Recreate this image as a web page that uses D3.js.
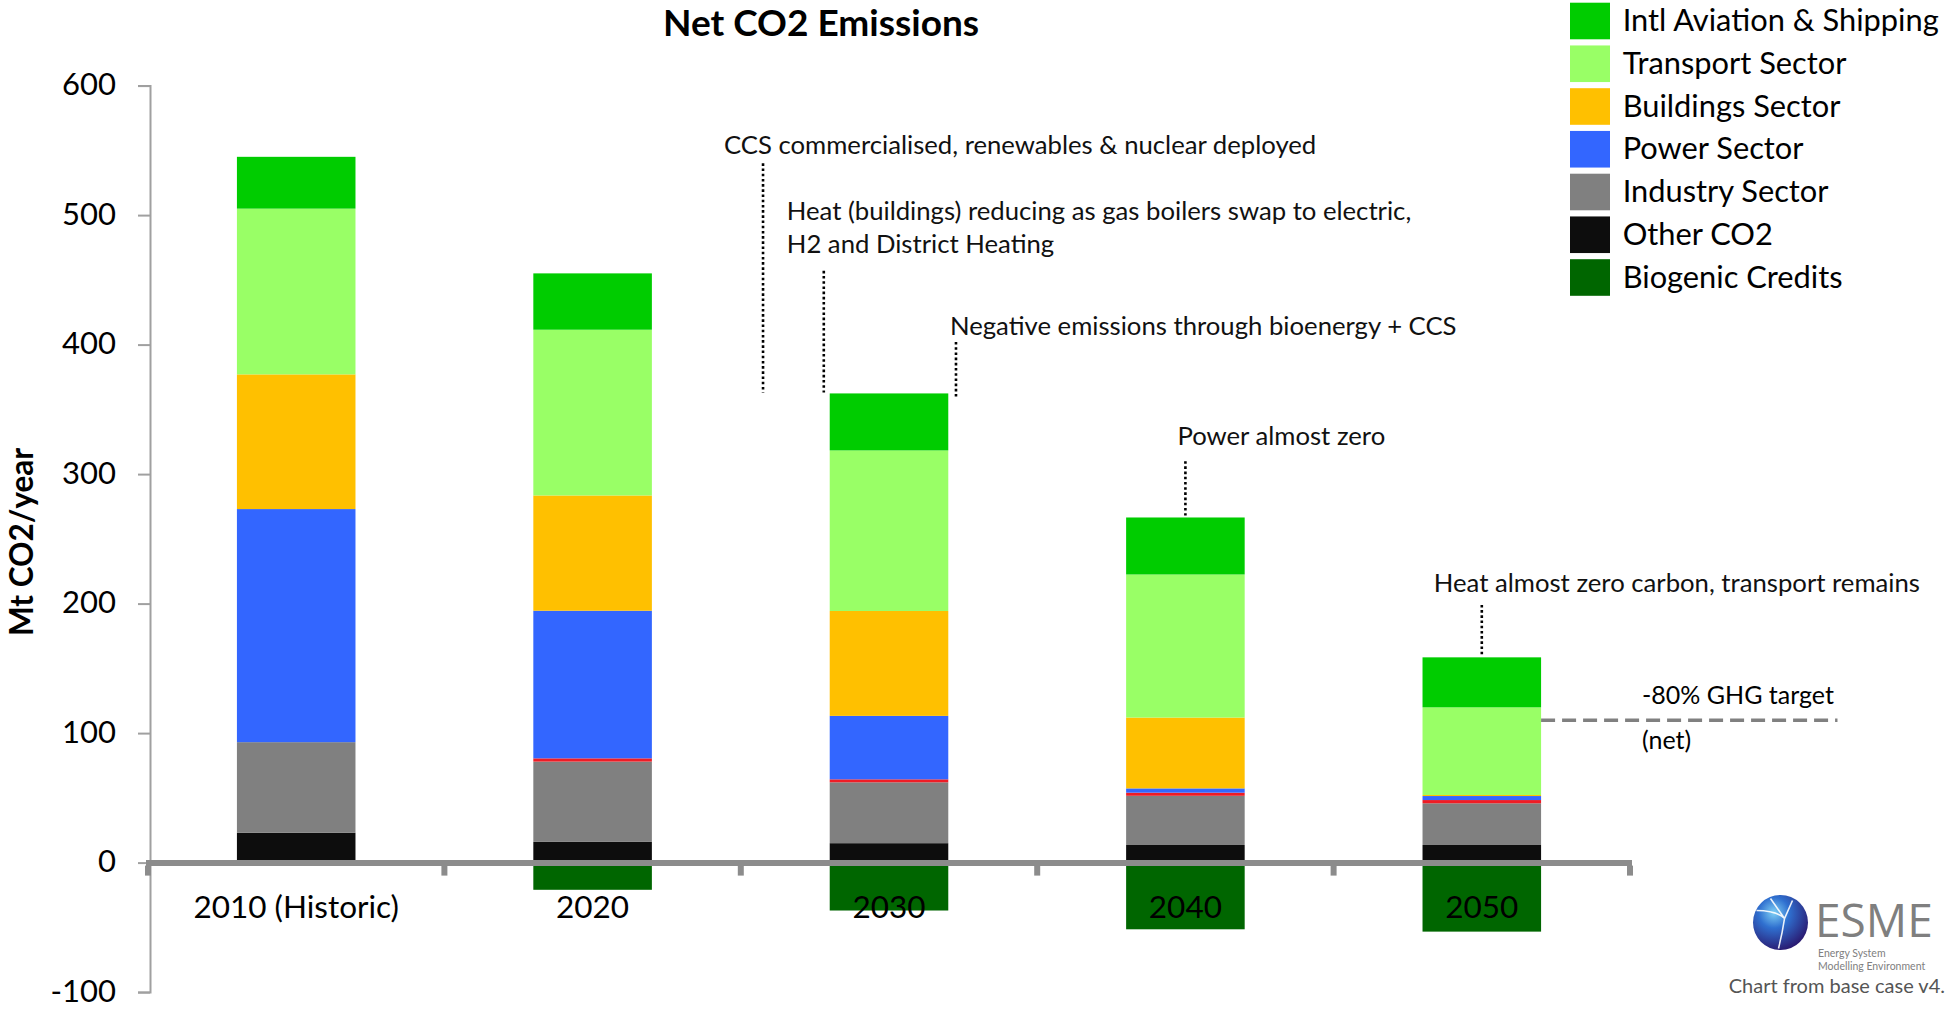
<!DOCTYPE html>
<html>
<head>
<meta charset="utf-8">
<script src="https://cdn.jsdelivr.net/npm/d3@7"></script>
<style>
  html, body { margin: 0; padding: 0; background: #ffffff; }
  svg { display: block; }
  text { font-family: Lato, "Open Sans", sans-serif; }
</style>
</head>
<body>
<svg id="chart" width="1946" height="1009"></svg>
<script>
// ---- Data (Mt CO2 / year) ----
const categories = ["2010 (Historic)", "2020", "2030", "2040", "2050"];

const otherCO2   = [23, 16, 15, 13.6, 13.6];
const industry   = [70, 62, 47, 38, 32.2];
const unlisted   = [0, 2.5, 2.3, 2.4, 2.5];      // thin red band, not in legend
const power      = [180, 114, 49, 3.3, 3.1];
const buildings  = [104, 89, 81, 54.7, 0.8];
const transport  = [128, 128, 124, 110.5, 67.7];
const aviation   = [40, 43.5, 44, 44, 38.6];
const biogenic   = [0, -21, -37, -51.5, -53.3];

const yTicks = [-100, 0, 100, 200, 300, 400, 500, 600];
const ghgTarget = 110;

const legendLabels = ["Intl Aviation & Shipping", "Transport Sector", "Buildings Sector",
                      "Power Sector", "Industry Sector", "Other CO2", "Biogenic Credits"];

const annotationTexts = [
  ["CCS commercialised, renewables & nuclear deployed"],
  ["Heat (buildings) reducing as gas boilers swap to electric,", "H2 and District Heating"],
  ["Negative emissions through bioenergy + CCS"],
  ["Power almost zero"],
  ["Heat almost zero carbon, transport remains"]
];

// ---- Styling ----
const colors = {
  other: "#0d0d0d", industry: "#808080", unlisted: "#ee1c25", power: "#3366ff",
  buildings: "#ffc000", transport: "#99ff66", aviation: "#00cc00", biogenic: "#006600"
};
const legendColors = [colors.aviation, colors.transport, colors.buildings, colors.power,
                      colors.industry, colors.other, colors.biogenic];

const svg = d3.select("#chart");

// Stack order bottom -> top
const keys = ["other", "industry", "unlisted", "power", "buildings", "transport", "aviation"];
const table = categories.map((c, i) => ({
  category: c,
  other: otherCO2[i], industry: industry[i], unlisted: unlisted[i], power: power[i],
  buildings: buildings[i], transport: transport[i], aviation: aviation[i], biogenic: biogenic[i]
}));

const x = d3.scaleBand().domain(categories).range([148, 1630]).paddingInner(0.6).paddingOuter(0.3);
const y = d3.scaleLinear().domain([-100, 600]).range([992.1, 85.6]);
const step = x.step();
const bw = x.bandwidth();

// Y axis
const yAxis = svg.append("g")
  .attr("transform", "translate(150,0)")
  .call(d3.axisLeft(y).tickValues(yTicks).tickSize(12).tickPadding(22).tickFormat(d => String(d)));
yAxis.select(".domain").attr("stroke", "#a0a0a0").attr("stroke-width", 2);
yAxis.selectAll(".tick line").attr("stroke", "#a0a0a0").attr("stroke-width", 2);
yAxis.selectAll(".tick text").attr("font-size", 31).attr("fill", "#000").attr("dy", "0.3em")
  .style("font-family", "Lato, sans-serif");

// Stacked positive bars
const stacked = d3.stack().keys(keys)(table);
const layers = svg.append("g").selectAll("g").data(stacked).join("g")
  .attr("fill", d => colors[d.key]);
layers.selectAll("rect").data(d => d).join("rect")
  .attr("x", d => x(d.data.category))
  .attr("width", bw)
  .attr("y", d => y(d[1]))
  .attr("height", d => Math.max(0, y(d[0]) - y(d[1])));

// Negative biogenic credits
svg.append("g").selectAll("rect").data(table.filter(d => d.biogenic < 0)).join("rect")
  .attr("fill", colors.biogenic)
  .attr("x", d => x(d.category))
  .attr("width", bw)
  .attr("y", y(0))
  .attr("height", d => y(d.biogenic) - y(0));

// Category axis: thick baseline with boundary ticks
const x0 = x.range()[0], x1 = x.range()[1];
svg.append("line")
  .attr("x1", x0 - 2).attr("x2", x1 + 2)
  .attr("y1", y(0) + 0.5).attr("y2", y(0) + 0.5)
  .attr("stroke", "#8c8c8c").attr("stroke-width", 6);
const bounds = d3.range(categories.length + 1).map(i => x0 + i * step);
svg.append("g").selectAll("line").data(bounds).join("line")
  .attr("x1", d => d).attr("x2", d => d)
  .attr("y1", y(0) + 3).attr("y2", y(0) + 13)
  .attr("stroke", "#8c8c8c").attr("stroke-width", 6);

const xAxis = svg.append("g")
  .attr("transform", `translate(0,${y(0)})`)
  .call(d3.axisBottom(x).tickSize(0).tickPadding(33));
xAxis.select(".domain").remove();
xAxis.selectAll(".tick text").attr("font-size", 31.5).attr("fill", "#000")
  .style("font-family", "Lato, sans-serif");

// -80% GHG target (net)
const xEnd2050 = x("2050") + bw;
svg.append("line")
  .attr("x1", xEnd2050).attr("x2", xEnd2050 + step)
  .attr("y1", y(ghgTarget)).attr("y2", y(ghgTarget))
  .attr("stroke", "#808080").attr("stroke-width", 3.5).attr("stroke-dasharray", "14,7");
svg.append("text").attr("x", xEnd2050 + 101).attr("y", y(ghgTarget) - 16)
  .attr("font-size", 25).text("-80% GHG target");
svg.append("text").attr("x", xEnd2050 + 101).attr("y", y(ghgTarget) + 29)
  .attr("font-size", 25).text("(net)");

// Annotations with dotted leader lines
const centre = c => x(c) + bw / 2;
const notes = [
  { lx: centre("2030") - 0.425 * step, v0: 540, v1: 363, tx: -39, ty: 154, lines: annotationTexts[0] },
  { lx: centre("2030") - 0.22 * step,  v0: 457, v1: 363, tx: -37, ty: 220, lines: annotationTexts[1] },
  { lx: centre("2030") + 0.226 * step, v0: 402, v1: 360, tx: -6,  ty: 335, lines: annotationTexts[2] },
  { lx: centre("2040"),                v0: 310, v1: 268, tx: -8,  ty: 445, lines: annotationTexts[3] },
  { lx: centre("2050"),                v0: 199, v1: 159, tx: -48, ty: 592, lines: annotationTexts[4] }
];
const ann = svg.append("g");
notes.forEach(n => {
  ann.append("line")
    .attr("x1", n.lx).attr("x2", n.lx)
    .attr("y1", y(n.v0)).attr("y2", y(n.v1))
    .attr("stroke", "#000").attr("stroke-width", 2.6).attr("stroke-dasharray", "2.6,2.6");
  const t = ann.append("text").attr("x", n.lx + n.tx).attr("y", n.ty).attr("font-size", 25.7).attr("fill", "#111");
  n.lines.forEach((s, i) => t.append("tspan").attr("x", n.lx + n.tx).attr("dy", i === 0 ? 0 : 33).text(s));
});

// Title
svg.append("text").attr("x", 821).attr("y", 36).attr("text-anchor", "middle")
  .attr("font-size", 37).attr("font-weight", "bold").text("Net CO2 Emissions");

// Y axis title
svg.append("text").attr("transform", "translate(33,542) rotate(-90)")
  .attr("text-anchor", "middle").attr("font-size", 31.5).attr("font-weight", "bold")
  .text("Mt CO2/year");

// Legend
const legend = svg.append("g").attr("transform", "translate(1570,2.7)");
const rows = legend.selectAll("g").data(legendLabels).join("g")
  .attr("transform", (d, i) => `translate(0,${i * 42.75})`);
rows.append("rect").attr("width", 40).attr("height", 36.6)
  .attr("fill", (d, i) => legendColors[i]);
rows.append("text").attr("x", 52.7).attr("y", 28.5).attr("font-size", 30.8).attr("fill", "#000")
  .text(d => d);

// ESME logo
const defs = svg.append("defs");
const grad = defs.append("radialGradient").attr("id", "globe").attr("cx", "38%").attr("cy", "32%").attr("r", "70%");
grad.append("stop").attr("offset", "0%").attr("stop-color", "#7fd0f5");
grad.append("stop").attr("offset", "40%").attr("stop-color", "#2f6fcf");
grad.append("stop").attr("offset", "100%").attr("stop-color", "#2a1b72");
const logo = svg.append("g").attr("transform", "translate(1780.5,922.5)");
logo.append("circle").attr("r", 27.5).attr("fill", "url(#globe)");
logo.append("path").attr("d", "M-24,-12 Q-4,-12 4,-4 L12,-22 M4,-4 L-10,-24 M4,-4 Q2,10 -2,26")
  .attr("fill", "none").attr("stroke", "#ffffff").attr("stroke-width", 1.6).attr("opacity", 0.9);
svg.append("text").attr("x", 1815).attr("y", 937).attr("font-size", 46)
  .style("font-family", "'Open Sans', sans-serif").attr("fill", "#7f7f7f").text("ESME");
svg.append("text").attr("x", 1818).attr("y", 957).attr("font-size", 10.5)
  .style("font-family", "Lato, sans-serif").attr("fill", "#808080").text("Energy System");
svg.append("text").attr("x", 1818).attr("y", 970).attr("font-size", 10.5)
  .style("font-family", "Lato, sans-serif").attr("fill", "#808080").text("Modelling Environment");
svg.append("text").attr("x", 1945).attr("y", 993).attr("text-anchor", "end").attr("font-size", 20)
  .attr("fill", "#555").text("Chart from base case v4.");
</script>
</body>
</html>
